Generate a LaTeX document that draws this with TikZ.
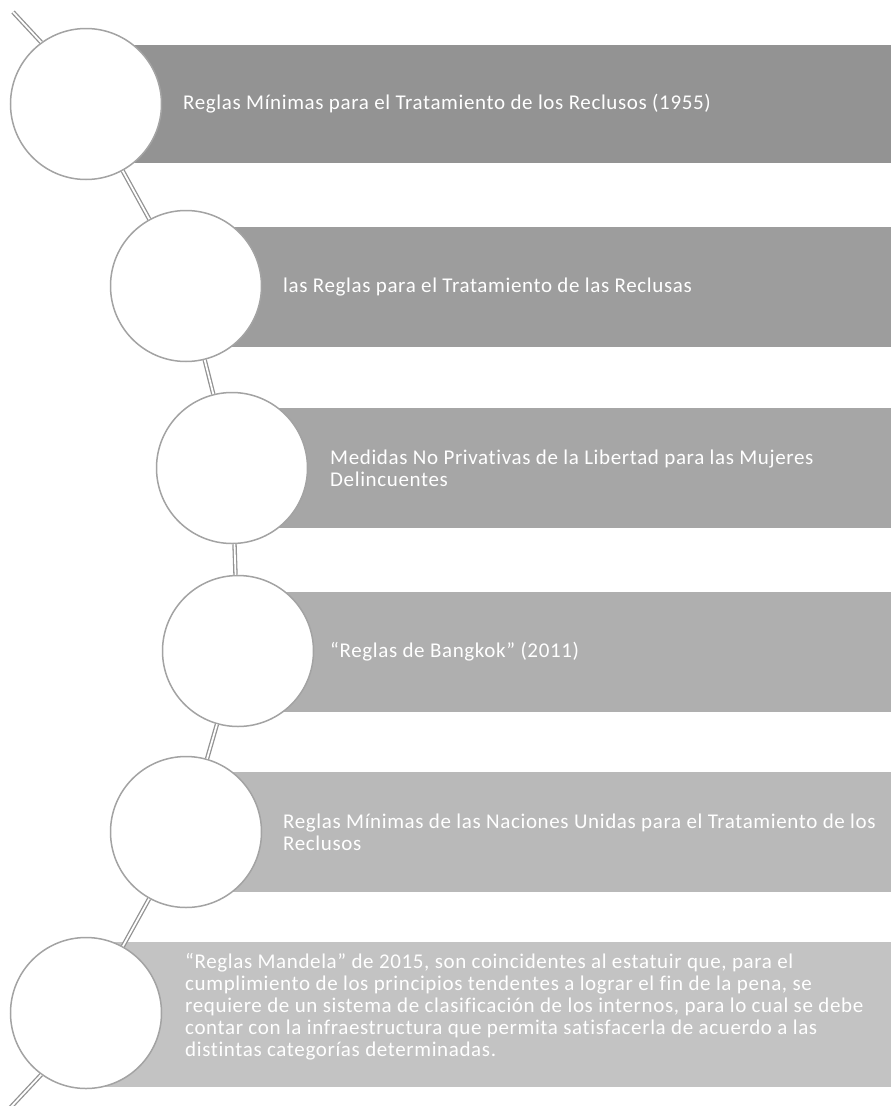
\documentclass[tikz,border=0pt]{standalone}
\usepackage{fontspec}
\setmainfont{Carlito}
\newfontfamily\barfont[LetterSpace=3,Ligatures=NoCommon]{Carlito}
\definecolor{tone1}{gray}{0.576}
\definecolor{tone2}{gray}{0.615}
\definecolor{tone3}{gray}{0.651}
\definecolor{tone4}{gray}{0.686}
\definecolor{tone5}{gray}{0.725}
\definecolor{tone6}{gray}{0.765}
\definecolor{rim}{gray}{0.64}
\tikzset{
  dot/.style={circle,draw=rim,line width=1.5pt,fill=white,minimum size=151pt,inner sep=0pt},
  bartext/.style={anchor=west,text=white,align=left,inner sep=0pt,font=\barfont\fontsize{21}{22}\selectfont},
  link/.style={draw=rim!90!black,line width=1.3pt,double=white,double distance=1.8pt}
}
\begin{document}
\begin{tikzpicture}[x=1pt,y=-1pt]
\useasboundingbox (0,0) rectangle (891,1106);
% gray bars
\fill[tone1] (86,45) rectangle (891,163);
\fill[tone2] (186,227) rectangle (891,347);
\fill[tone3] (232,408) rectangle (891,528);
\fill[tone4] (238,592) rectangle (891,712);
\fill[tone5] (186,772) rectangle (891,892);
\fill[tone6] (86,942) rectangle (891,1087);
% circles
\node[dot] (c1) at (86,104) {};
\node[dot] (c2) at (186,286) {};
\node[dot] (c3) at (232,468) {};
\node[dot] (c4) at (238,651) {};
\node[dot] (c5) at (186,832) {};
\node[dot] (c6) at (86,1013) {};
\coordinate (top) at (13,12);
\coordinate (bottom) at (10,1108);
% the line through the circles
\draw[link] (top) -- (c1.126);
\draw[link] (c1) -- (c2);
\draw[link] (c2) -- (c3);
\draw[link] (c3) -- (c4);
\draw[link] (c4) -- (c5);
\draw[link] (c5) -- (c6);
\draw[link] (c6.234) -- (bottom);
% texts
\node[bartext] (t1) at (183,104) {Reglas Mínimas para el Tratamiento de los Reclusos (1955)};
\node[bartext] (t2) at (283,287) {las Reglas para el Tratamiento de las Reclusas};
\node[bartext] (t3) at (330,468) {Medidas No Privativas de la Libertad para las Mujeres\\Delincuentes};
\node[bartext] (t4) at (330,652) {“Reglas de Bangkok” (2011)};
\node[bartext] (t5) at (283,832) {Reglas Mínimas de las Naciones Unidas para el Tratamiento de los\\Reclusos};
\node[bartext] (t6) at (185,1007) {“Reglas Mandela” de 2015, son coincidentes al estatuir que, para el\\cumplimiento de los principios tendentes a lograr el fin de la pena, se\\requiere de un sistema de clasificación de los internos, para lo cual se debe\\contar con la infraestructura que permita satisfacerla de acuerdo a las\\distintas categorías determinadas.};
\end{tikzpicture}
\end{document}
